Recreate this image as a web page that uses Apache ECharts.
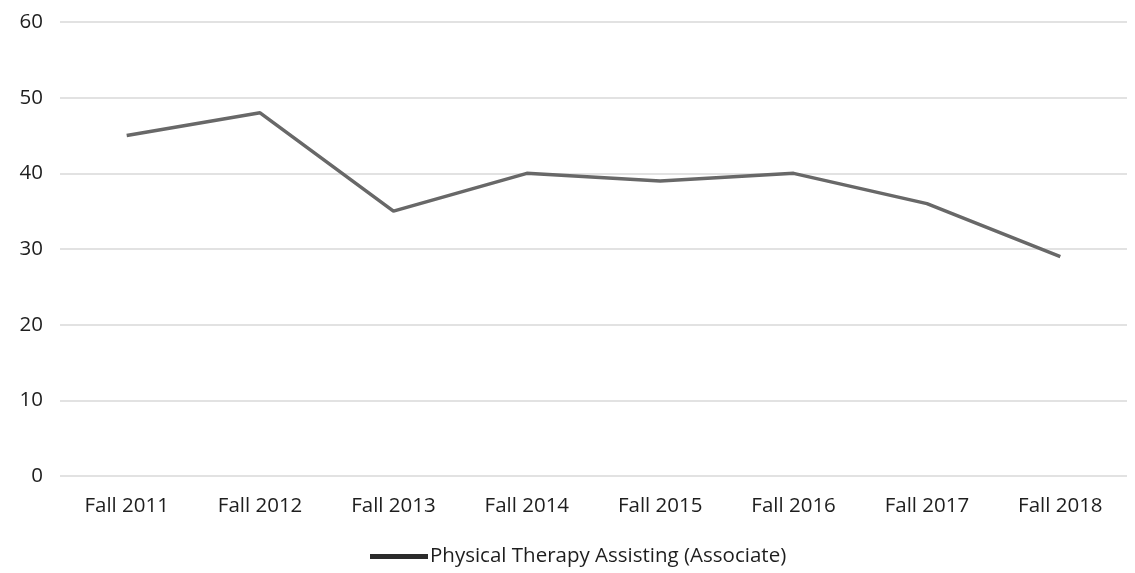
<!DOCTYPE html>
<html>
<head>
<meta charset="utf-8">
<script src="https://cdn.jsdelivr.net/npm/echarts@6/dist/echarts.min.js"></script>
<style>
  html, body { margin: 0; padding: 0; background: #fff; }
  #chart { width: 1135px; height: 573px; }
</style>
</head>
<body>
<div id="chart"></div>
<script>
const categories = ['Fall 2011', 'Fall 2012', 'Fall 2013', 'Fall 2014', 'Fall 2015', 'Fall 2016', 'Fall 2017', 'Fall 2018'];
const seriesName = 'Physical Therapy Assisting (Associate)';
const enrollment = [45, 48, 35, 40, 39, 40, 36, 29];

const chart = echarts.init(document.getElementById('chart'));
const fontFamily = '"Open Sans", "Liberation Sans", sans-serif';

chart.setOption({
  backgroundColor: '#ffffff',
  animation: false,
  textStyle: { fontFamily: fontFamily },
  grid: { left: 60, right: 8, top: 22, bottom: 97 },
  legend: {
    bottom: 1,
    left: 365,
    icon: 'rect',
    itemWidth: 58,
    itemHeight: 5,
    itemGap: 2,
    textStyle: { fontSize: 20.5, color: '#1e1e1e', fontFamily: fontFamily, padding: [0, 0, 0, -3] },
    data: [{ name: seriesName, itemStyle: { color: '#2b2b2b' } }]
  },
  xAxis: {
    type: 'category',
    data: categories,
    boundaryGap: true,
    axisLine: { show: false },
    axisTick: { show: false },
    axisLabel: { fontSize: 20.5, color: '#1e1e1e', margin: 20 }
  },
  yAxis: {
    type: 'value',
    min: 0,
    max: 60,
    interval: 10,
    axisLine: { show: false },
    axisTick: { show: false },
    axisLabel: { fontSize: 20.5, color: '#1e1e1e', margin: 17 },
    splitLine: { lineStyle: { color: '#e2e2e2', width: 2 } }
  },
  series: [{
    name: seriesName,
    type: 'line',
    data: enrollment,
    symbol: 'none',
    lineStyle: { color: '#686868', width: 3.5 },
    itemStyle: { color: '#686868' }
  }]
});
</script>
</body>
</html>
